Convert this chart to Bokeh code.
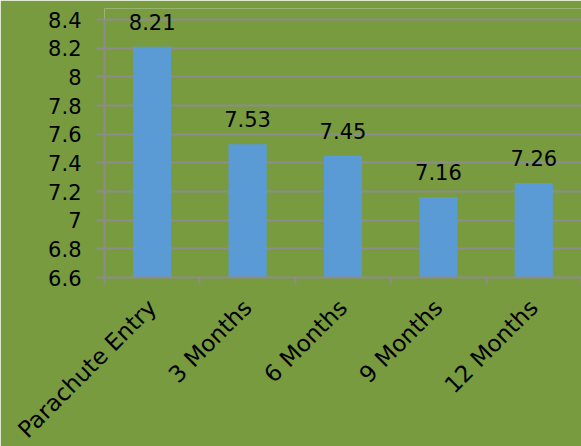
from bokeh.plotting import figure
from bokeh.models import Range1d, FixedTicker, ColumnDataSource, LabelSet
from bokeh.core.properties import value
from bokeh.embed import file_html
from bokeh.resources import INLINE
import math

categories = ["Parachute Entry", "3 Months", "6 Months", "9 Months", "12 Months"]
values = [8.21, 7.53, 7.45, 7.16, 7.26]
y_ticks = [6.6, 6.8, 7.0, 7.2, 7.4, 7.6, 7.8, 8.0, 8.2, 8.4]
y_tick_labels = ["6.6", "6.8", "7", "7.2", "7.4", "7.6", "7.8", "8", "8.2", "8.4"]

BG = "#789b40"
GRID = "#8c8c8c"
BAR = "#5b9bd5"
FONT = "DejaVu Sans"
FS = "21px"

xs = [i + 0.5 for i in range(len(categories))]
src = ColumnDataSource(dict(x=xs, top=values, label=[f"{v:.2f}" for v in values]))

p = figure(frame_width=477, frame_height=269, output_backend="svg", toolbar_location=None,
           x_range=Range1d(0, len(categories)), y_range=Range1d(6.6, 8.4768),
           min_border_left=104, min_border_right=0, min_border_top=8, min_border_bottom=0)
p.background_fill_color = BG
p.border_fill_color = BG
p.outline_line_color = None

p.vbar(x="x", top="top", bottom=6.6, width=0.4, source=src, fill_color=BAR, line_color=None)

labels = LabelSet(x="x", y="top", text="label", source=src, text_align="center",
                  text_baseline="alphabetic", y_offset=17, text_font=value(FONT),
                  text_font_size=FS, text_color="black")
p.add_layout(labels)

# y axis
p.yaxis.ticker = FixedTicker(ticks=y_ticks, minor_ticks=[])
p.yaxis.major_label_overrides = {t: l for t, l in zip(y_ticks, y_tick_labels)}
p.yaxis.bounds = (6.6, 8.4)
p.yaxis.axis_line_color = GRID
p.yaxis.axis_line_width = 2
p.yaxis.major_tick_line_color = GRID
p.yaxis.major_tick_line_width = 2
p.yaxis.major_tick_out = 8
p.yaxis.major_tick_in = 0
p.yaxis.minor_tick_line_color = None
p.yaxis.major_label_standoff = 15
p.yaxis.major_label_text_font = FONT
p.yaxis.major_label_text_font_size = FS
p.yaxis.major_label_text_color = "black"

# x axis
p.xaxis.ticker = FixedTicker(ticks=xs, minor_ticks=list(range(len(categories) + 1)))
p.xaxis.major_label_overrides = {x: c for x, c in zip(xs, categories)}
p.xaxis.axis_line_color = GRID
p.xaxis.axis_line_width = 2
p.xaxis.major_tick_line_color = None
p.xaxis.major_tick_out = 0
p.xaxis.major_tick_in = 0
p.xaxis.minor_tick_line_color = GRID
p.xaxis.minor_tick_line_width = 2
p.xaxis.minor_tick_out = 7
p.xaxis.minor_tick_in = 0
p.xaxis.major_label_orientation = math.pi / 4
p.xaxis.major_label_standoff = 19
p.xaxis.major_label_text_font = FONT
p.xaxis.major_label_text_font_size = "23px"
p.xaxis.major_label_text_color = "black"

p.xgrid.grid_line_color = None
p.ygrid.ticker = FixedTicker(ticks=y_ticks)
p.ygrid.grid_line_color = GRID
p.ygrid.grid_line_width = 2

open("out.html", "w").write(file_html(p, INLINE))
